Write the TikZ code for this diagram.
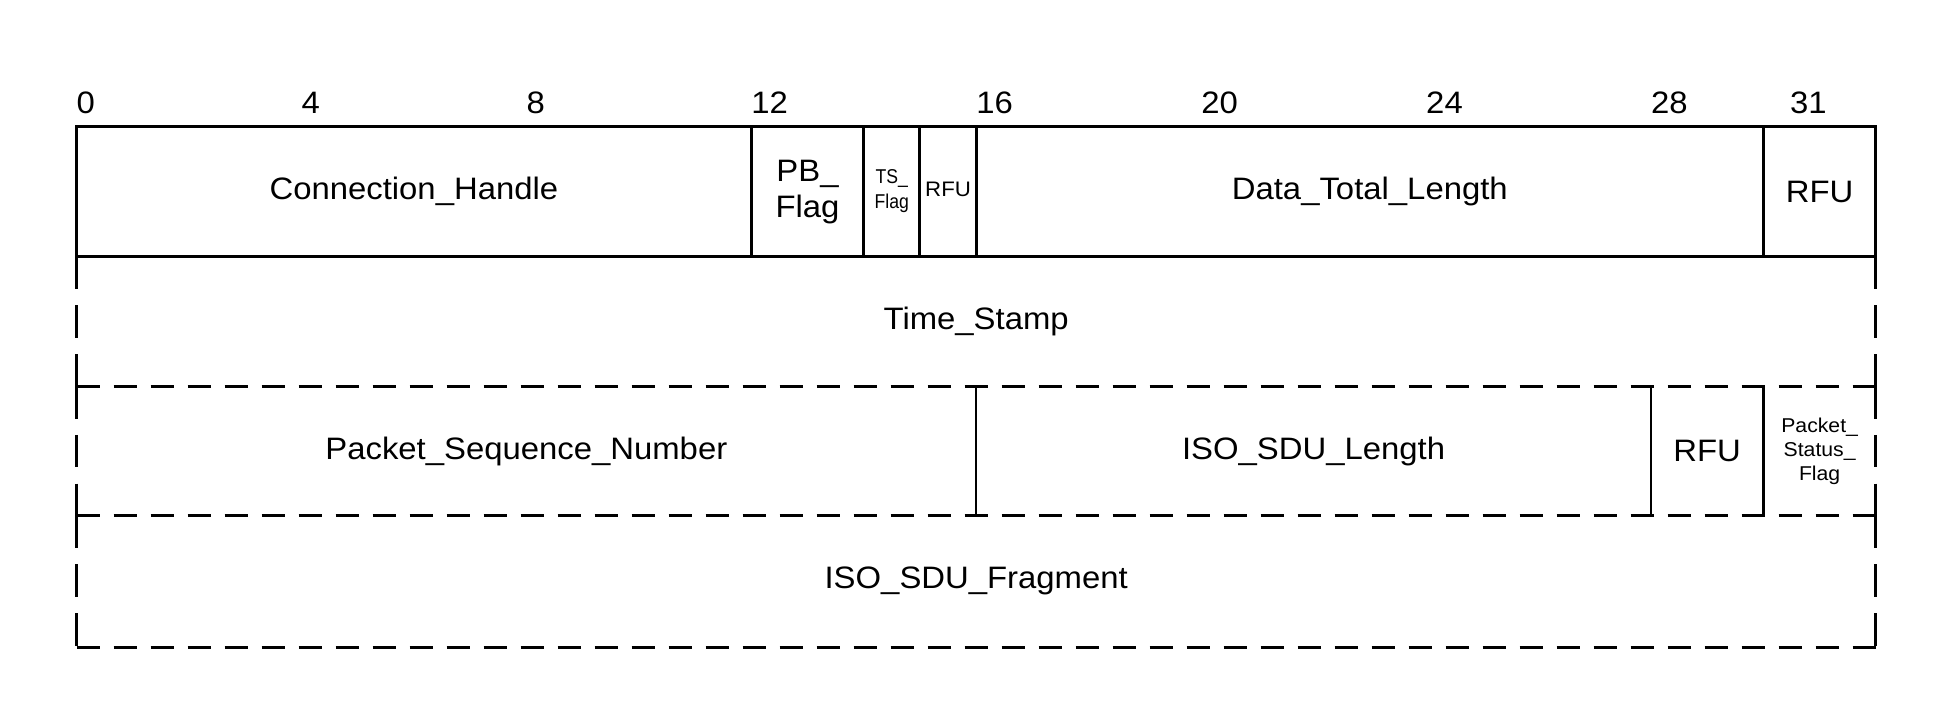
\documentclass[tikz,border=0pt]{standalone}
\usepackage{fontspec}
\setmainfont[FakeStretch=1.06]{Liberation Sans}
\newfontfamily\narrowfont[FakeStretch=0.88]{Liberation Sans}
\begin{document}
\begin{tikzpicture}[x=1pt,y=-1pt,
  frame/.style={line width=3pt},
  inner/.style={line width=2.2pt},
  hdash/.style={line width=3pt, dash pattern=on 23pt off 14pt},
  vdash/.style={line width=3pt, dash pattern=on 32.5pt off 16.25pt},
  bigtext/.style={font=\fontsize{31}{36}\selectfont, align=center, inner sep=0pt},
  smalltext/.style={font=\fontsize{21}{24}\selectfont, align=center, inner sep=0pt},
  tinytext/.style={font=\narrowfont\fontsize{20}{25.7}\selectfont, align=center, inner sep=0pt},
  psftext/.style={font=\fontsize{20}{24}\selectfont, align=center, inner sep=0pt},
  bitnum/.style={font=\fontsize{31}{36}\selectfont, anchor=base west, inner sep=0pt}
]
\useasboundingbox (0,0) rectangle (1952,726);
\def\L{76.5}
\def\W{56.23}
% row boundaries
\def\yA{126.5}
\def\yB{256.5}
\def\yC{386}
\def\yD{515.5}
\def\yE{647}
% named coordinates
\coordinate (tl) at (\L,\yA);
\coordinate (tr) at ({\L+32*\W},\yA);
\coordinate (r1l) at (\L,\yB);
\coordinate (r1r) at ({\L+32*\W},\yB);
\coordinate (r2l) at (\L,\yC);
\coordinate (r2r) at ({\L+32*\W},\yC);
\coordinate (r3l) at (\L,\yD);
\coordinate (r3r) at ({\L+32*\W},\yD);
\coordinate (r4l) at (\L,\yE);
\coordinate (r4r) at ({\L+32*\W},\yE);

% row 1 (solid)
\draw[frame] (tl) rectangle (r1r);
\foreach \b in {12,14,15,16,30}
  \draw[frame] ({\L+\b*\W},\yA) -- ({\L+\b*\W},\yB);

% row 2
\draw[vdash] (r1l) -- (r2l);
\draw[vdash] (r1r) -- (r2r);
\draw[hdash] (r2l) -- (r2r);

% row 3
\draw[vdash] (r2l) -- (r3l);
\draw[vdash] (r2r) -- (r3r);
\foreach \b in {16,28,30}
  \draw[inner] ({\L+\b*\W},\yC) -- ({\L+\b*\W},\yD);
\draw[hdash] (r3l) -- (r3r);

% row 4
\draw[vdash] (r3l) -- (r4l);
\draw[vdash] (r3r) -- (r4r);
\draw[hdash] (r4l) -- (r4r);

% bit numbers
\node[bitnum] (n0) at ({\L+0*\W},113) {0};
\node[bitnum] (n4) at ({\L+4*\W},113) {4};
\node[bitnum] (n8) at ({\L+8*\W},113) {8};
\node[bitnum] (n12) at ({\L+12*\W},113) {12};
\node[bitnum] (n16) at ({\L+16*\W},113) {16};
\node[bitnum] (n20) at ({\L+20*\W},113) {20};
\node[bitnum] (n24) at ({\L+24*\W},113) {24};
\node[bitnum] (n28) at ({\L+28*\W},113) {28};
\node[bitnum] (n31) at (1790,113) {31};

% row 1 labels
\node[bigtext] (ch) at ({\L+6*\W},191.5) {Connection\_Handle};
\node[bigtext] (pb) at ({\L+13*\W},192.5) {PB\_\\Flag};
\node[tinytext] (ts) at ({\L+14.5*\W},191) {TS\_\\Flag};
\node[smalltext] (rfu1) at ({\L+15.5*\W},189) {RFU};
\node[bigtext] (dtl) at ({\L+23*\W},191.5) {Data\_Total\_Length};
\node[bigtext] (rfu2) at ({\L+31*\W},191.5) {RFU};

% row 2
\node[bigtext] (tsp) at ({\L+16*\W},321) {Time\_Stamp};

% row 3
\node[bigtext] (psn) at ({\L+8*\W},451) {Packet\_Sequence\_Number};
\node[bigtext] (isl) at ({\L+22*\W},451) {ISO\_SDU\_Length};
\node[bigtext] (rfu3) at ({\L+29*\W},451) {RFU};
\node[psftext] (psf) at ({\L+31*\W},451) {Packet\_\\Status\_\\Flag};

% row 4
\node[bigtext] (frag) at ({\L+16*\W},581) {ISO\_SDU\_Fragment};
\end{tikzpicture}
\end{document}
